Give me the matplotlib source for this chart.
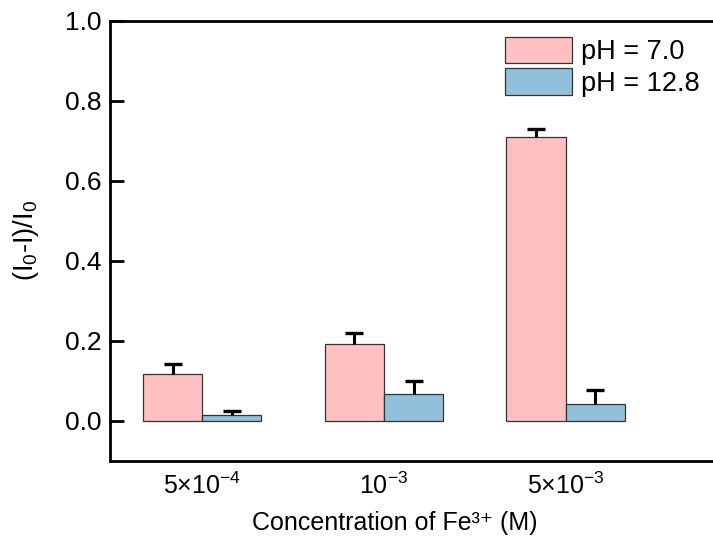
import matplotlib
matplotlib.use("Agg")
import matplotlib.pyplot as plt
import numpy as np

categories = ['5×10$^{-4}$', '10$^{-3}$', '5×10$^{-3}$']
series_names = ['pH = 7.0', 'pH = 12.8']
ph7_values = [0.117, 0.192, 0.709]
ph7_errors = [0.026, 0.027, 0.020]
ph128_values = [0.014, 0.067, 0.043]
ph128_errors = [0.011, 0.034, 0.035]

plt.rcParams['font.family'] = ['Liberation Sans', 'DejaVu Sans']
plt.rcParams['mathtext.default'] = 'regular'

fig = plt.figure(figsize=(7.13, 5.39), dpi=100)
ax = fig.add_axes([110/713, 1 - 461/539, 1.0 - 110/713 + 0.005, (461 - 21)/539])

x = np.arange(len(categories))
w = 0.326
pink = '#FFC0C1'
blue = '#92BFD9'

for offs, vals, errs, col, name in [(-w/2, ph7_values, ph7_errors, pink, series_names[0]),
                                     (w/2, ph128_values, ph128_errors, blue, series_names[1])]:
    xs = x + offs
    vals = np.array(vals)
    errs = np.array(errs)
    ax.bar(xs, vals, w, color=col, edgecolor='#333333', linewidth=0.9, label=name, zorder=2)
    ax.vlines(xs, vals, vals + errs, color='black', linewidth=2.2, zorder=3)
    ax.plot(xs, vals + errs, linestyle='none', marker='_', markersize=13,
            markeredgewidth=2.4, color='black', zorder=3)

ax.set_ylim(-0.1, 1.0)
ax.set_xlim(-0.507, 2.83)
ax.set_yticks([0.0, 0.2, 0.4, 0.6, 0.8, 1.0])
ax.set_yticklabels(['0.0', '0.2', '0.4', '0.6', '0.8', '1.0'])
ax.set_xticks(x)
ax.set_xticklabels(categories)

for s in ['left', 'bottom', 'top', 'right']:
    ax.spines[s].set_linewidth(2.0)
ax.tick_params(axis='y', direction='in', length=10, width=2.0, labelsize=19, pad=6)
ax.tick_params(axis='x', length=0, labelsize=18, pad=8)

ax.set_xlabel('Concentration of Fe³⁺ (M)', fontsize=18)
ax.xaxis.set_label_coords(0.469, -0.114)
ax.set_ylabel('(I$_0$-I)/I$_0$', fontsize=19.5)
ax.yaxis.set_label_coords(-0.114, 0.502)

ax.legend(loc='upper left', bbox_to_anchor=(0.652, 0.964), frameon=False,
          fontsize=19.5, handlelength=2.44, handleheight=1.12, labelspacing=0.12,
          handletextpad=0.33, borderpad=0, borderaxespad=0)

fig.savefig('out.png', dpi=100)
